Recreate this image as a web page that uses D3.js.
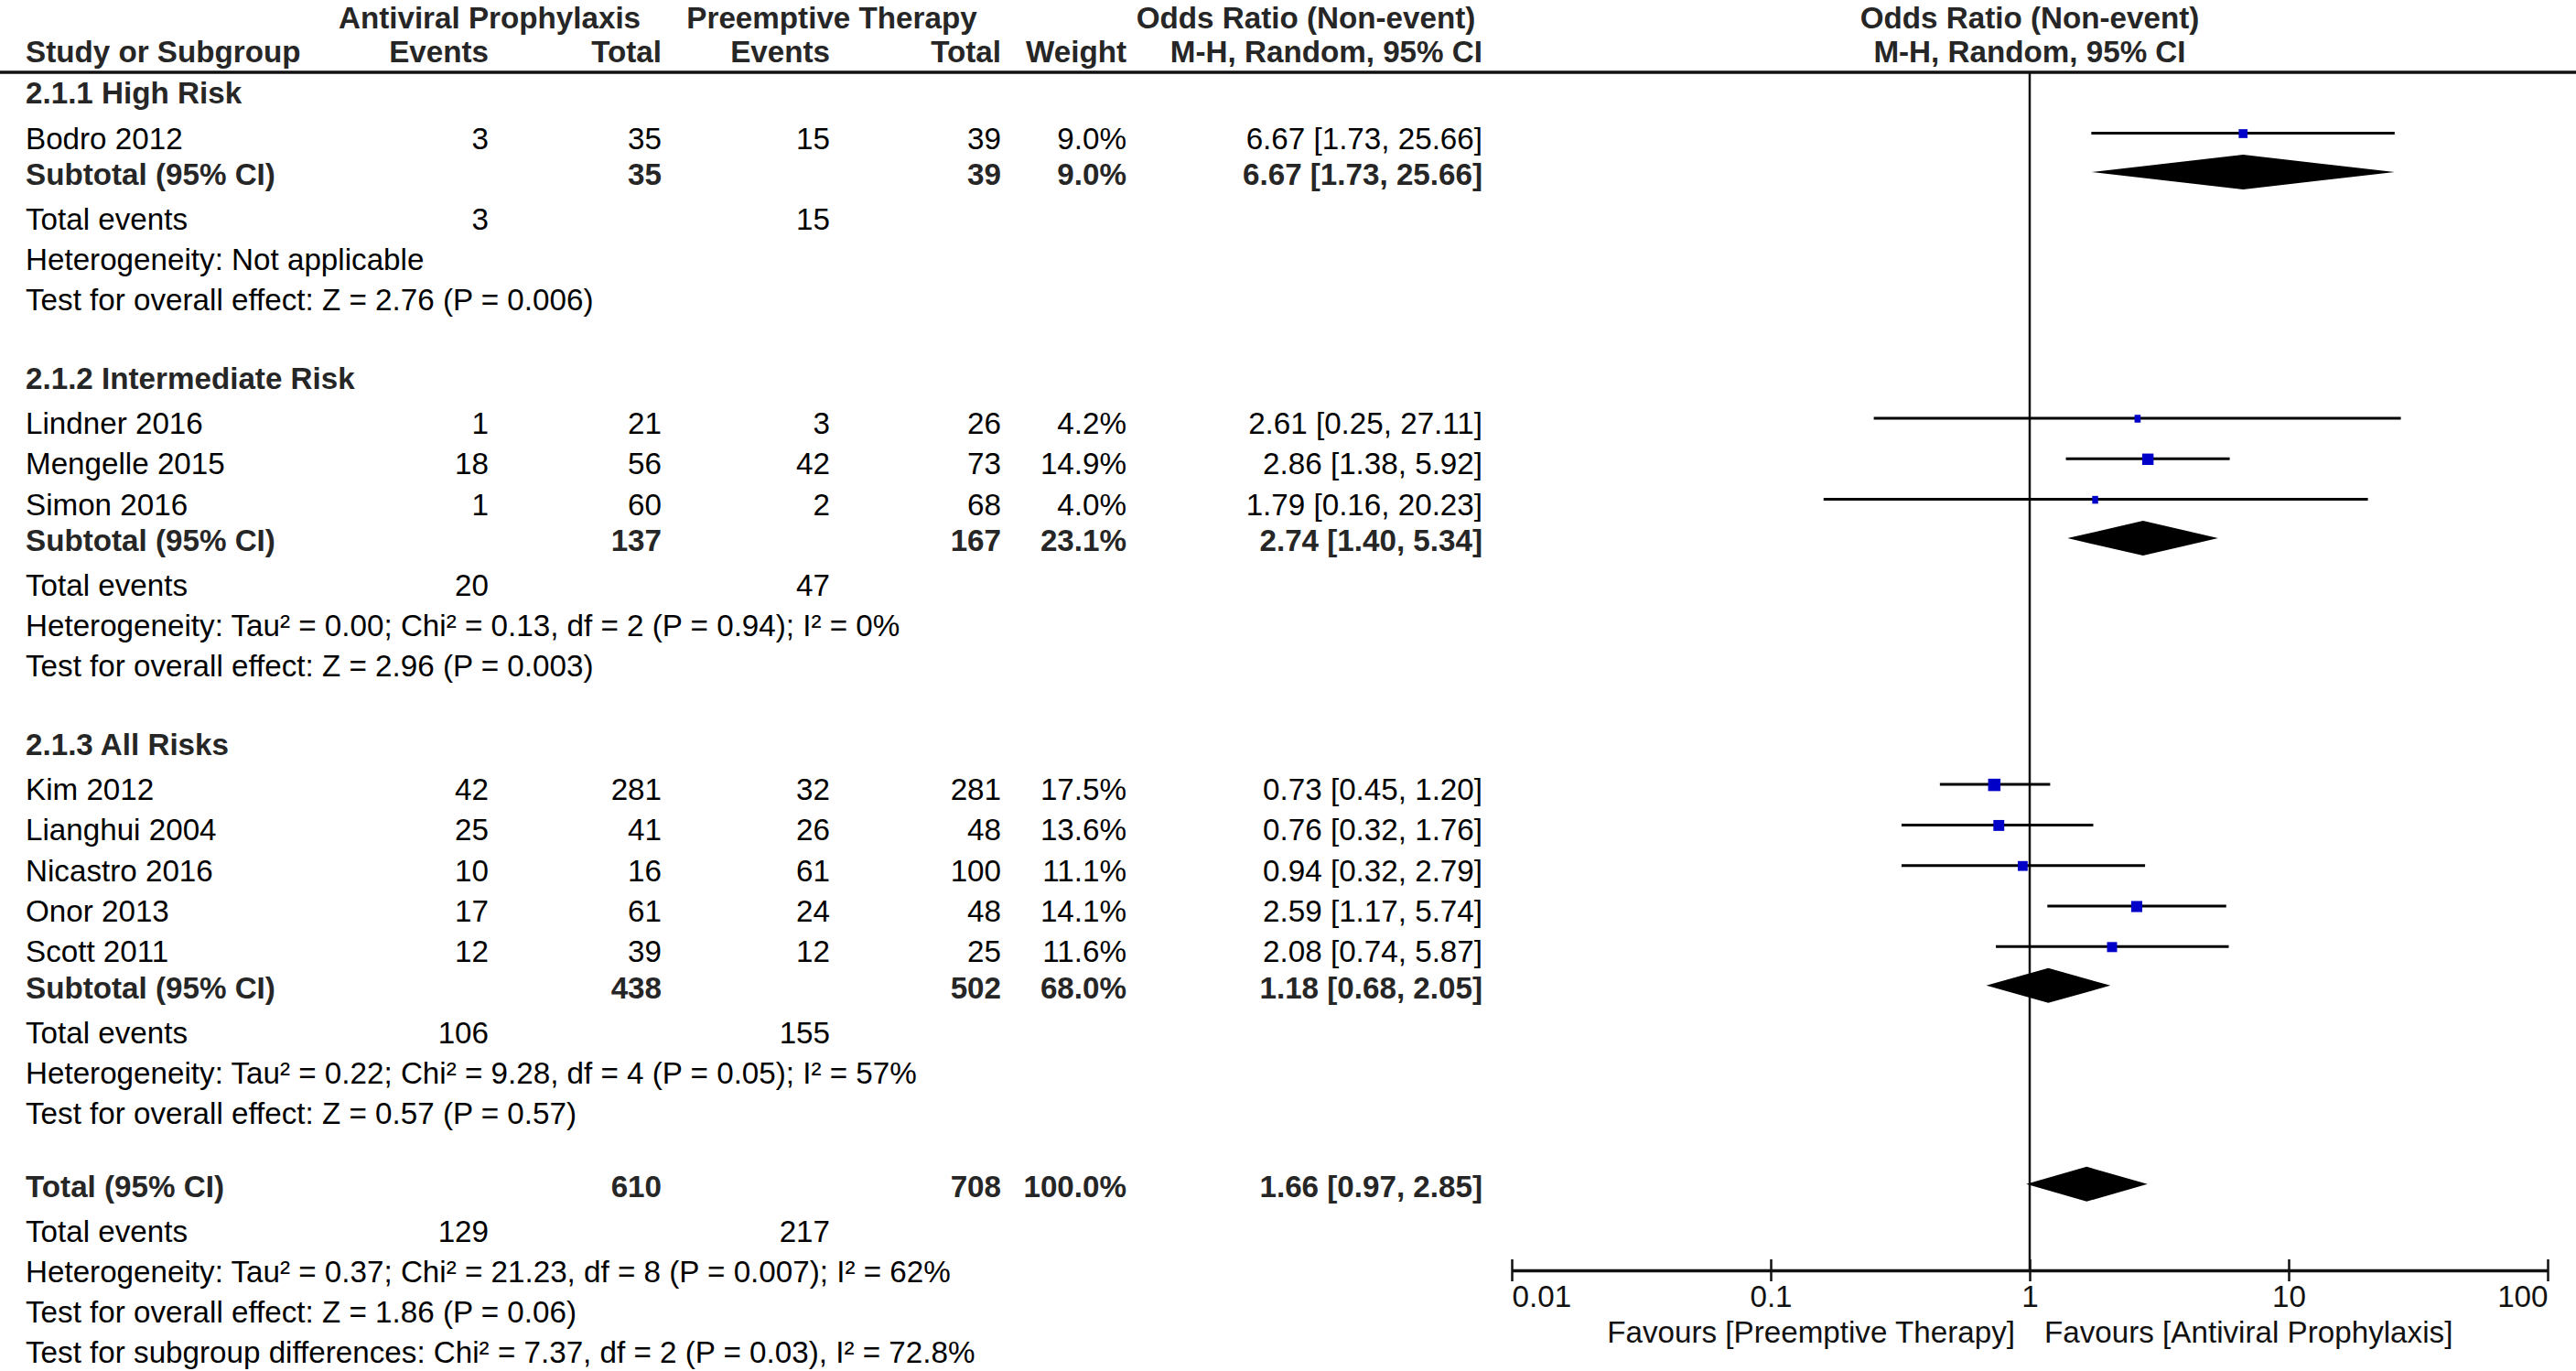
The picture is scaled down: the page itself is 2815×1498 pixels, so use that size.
<!DOCTYPE html>
<html>
<head>
<meta charset="utf-8">
<title>Forest plot</title>
<script src="https://d3js.org/d3.v7.min.js"></script>
<style>
  body { margin: 0; background: #fff; }
  text { font-family: "Liberation Sans", Arial, sans-serif; font-size: 33.2px; }
</style>
</head>
<body>
<svg id="chart" width="2815" height="1498"></svg>
<script>
// ---- data ----
var groupNames = ["2.1.1 High Risk", "2.1.2 Intermediate Risk", "2.1.3 All Risks"];

var studyNames = ["Bodro 2012", "Lindner 2016", "Mengelle 2015", "Simon 2016",
                  "Kim 2012", "Lianghui 2004", "Nicastro 2016", "Onor 2013", "Scott 2011"];
var studyGroup = [0, 1, 1, 1, 2, 2, 2, 2, 2];
var apEvents = [3, 1, 18, 1, 42, 25, 10, 17, 12];
var apTotal  = [35, 21, 56, 60, 281, 41, 16, 61, 39];
var ptEvents = [15, 3, 42, 2, 32, 26, 61, 24, 12];
var ptTotal  = [39, 26, 73, 68, 281, 48, 100, 48, 25];
var weights  = [9.0, 4.2, 14.9, 4.0, 17.5, 13.6, 11.1, 14.1, 11.6];
var orValue  = [6.67, 2.61, 2.86, 1.79, 0.73, 0.76, 0.94, 2.59, 2.08];
var orLower  = [1.73, 0.25, 1.38, 0.16, 0.45, 0.32, 0.32, 1.17, 0.74];
var orUpper  = [25.66, 27.11, 5.92, 20.23, 1.20, 1.76, 2.79, 5.74, 5.87];

var subApTotal  = [35, 137, 438];
var subPtTotal  = [39, 167, 502];
var subWeight   = [9.0, 23.1, 68.0];
var subOr       = [6.67, 2.74, 1.18];
var subLower    = [1.73, 1.40, 0.68];
var subUpper    = [25.66, 5.34, 2.05];
var subApEvents = [3, 20, 106];
var subPtEvents = [15, 47, 155];
var subHet = ["Heterogeneity: Not applicable",
              "Heterogeneity: Tau\u00b2 = 0.00; Chi\u00b2 = 0.13, df = 2 (P = 0.94); I\u00b2 = 0%",
              "Heterogeneity: Tau\u00b2 = 0.22; Chi\u00b2 = 9.28, df = 4 (P = 0.05); I\u00b2 = 57%"];
var subTest = ["Test for overall effect: Z = 2.76 (P = 0.006)",
               "Test for overall effect: Z = 2.96 (P = 0.003)",
               "Test for overall effect: Z = 0.57 (P = 0.57)"];

var totalApTotal = 610, totalPtTotal = 708, totalWeight = 100.0;
var totalOr = 1.66, totalLower = 0.97, totalUpper = 2.85;
var totalApEvents = 129, totalPtEvents = 217;
var totalNotes = ["Heterogeneity: Tau\u00b2 = 0.37; Chi\u00b2 = 21.23, df = 8 (P = 0.007); I\u00b2 = 62%",
                  "Test for overall effect: Z = 1.86 (P = 0.06)",
                  "Test for subgroup differences: Chi\u00b2 = 7.37, df = 2 (P = 0.03), I\u00b2 = 72.8%"];

var axisTicks  = [0.01, 0.1, 1, 10, 100];
var axisLabels = ["0.01", "0.1", "1", "10", "100"];
var favoursLeft  = "Favours [Preemptive Therapy]";
var favoursRight = "Favours [Antiviral Prophylaxis]";

// ---- layout ----
var svg = d3.select("#chart");
var regular = "#000", boldCol = "#262626";
var col = { label: 28, apE: 534, apT: 723, ptE: 907, ptT: 1094, w: 1231, ci: 1620 };
var headLineY = 79, axisY = 1388;

var x = d3.scaleLog().domain([0.01, 100]).range([1652, 2784]);
var box = d3.scaleSqrt().domain([0, d3.max(weights)]).range([0, 13.5]);

function fmtCI(v, l, u) { return v.toFixed(2) + " [" + l.toFixed(2) + ", " + u.toFixed(2) + "]"; }
function fmtW(w) { return w.toFixed(1) + "%"; }

// build the list of table rows
var rows = [];
groupNames.forEach(function(g, gi) {
    rows.push({ type: "group", label: g });
    studyNames.forEach(function(s, i) {
        if (studyGroup[i] !== gi) return;
        rows.push({ type: "study", label: s, apE: apEvents[i], apT: apTotal[i], ptE: ptEvents[i], ptT: ptTotal[i],
                    w: weights[i], or: orValue[i], lo: orLower[i], hi: orUpper[i] });
    });
    rows.push({ type: "sub", label: "Subtotal (95% CI)", apT: subApTotal[gi], ptT: subPtTotal[gi],
                w: subWeight[gi], or: subOr[gi], lo: subLower[gi], hi: subUpper[gi] });
    rows.push({ type: "events", label: "Total events", apE: subApEvents[gi], ptE: subPtEvents[gi] });
    rows.push({ type: "note", label: subHet[gi] });
    rows.push({ type: "note", label: subTest[gi] });
});
rows.push({ type: "sub", total: true, label: "Total (95% CI)", apT: totalApTotal, ptT: totalPtTotal,
            w: totalWeight, or: totalOr, lo: totalLower, hi: totalUpper });
rows.push({ type: "events", label: "Total events", apE: totalApEvents, ptE: totalPtEvents });
totalNotes.forEach(function(t) { rows.push({ type: "note", label: t }); });

// baseline of each row from the gap before it
var y = 113, prev = null;
rows.forEach(function(r) {
    if (prev) {
        if (r.type === "group") y += 85.5;
        else if (r.type === "study") y += (prev.type === "group" ? 49.5 : 44.3);
        else if (r.type === "sub") y += (r.total ? 80 : 39.5);
        else if (r.type === "events") y += 49;
        else y += 44;
    }
    r.y = y;
    prev = r;
});

function txt(xp, yp, s, anchor, bold) {
    svg.append("text")
        .attr("x", xp).attr("y", yp)
        .attr("text-anchor", anchor)
        .attr("font-weight", bold ? "bold" : "normal")
        .attr("fill", bold ? boldCol : regular)
        .text(s);
}

// ---- header ----
txt(535, 31, "Antiviral Prophylaxis", "middle", true);
txt(909, 31, "Preemptive Therapy", "middle", true);
txt(1427, 31, "Odds Ratio (Non-event)", "middle", true);
txt(x(1), 31, "Odds Ratio (Non-event)", "middle", true);
txt(col.label, 68, "Study or Subgroup", "start", true);
txt(col.apE, 68, "Events", "end", true);
txt(col.apT, 68, "Total", "end", true);
txt(col.ptE, 68, "Events", "end", true);
txt(col.ptT, 68, "Total", "end", true);
txt(col.w, 68, "Weight", "end", true);
txt(col.ci, 68, "M-H, Random, 95% CI", "end", true);
txt(x(1), 68, "M-H, Random, 95% CI", "middle", true);

svg.append("line")
    .attr("x1", 0).attr("x2", 2815)
    .attr("y1", headLineY).attr("y2", headLineY)
    .attr("stroke", "#111").attr("stroke-width", 3.5);

// ---- table text ----
rows.forEach(function(r) {
    var b = (r.type === "group" || r.type === "sub");
    txt(col.label, r.y, r.label, "start", b);
    if (r.apE !== undefined) txt(col.apE, r.y, r.apE, "end", false);
    if (r.apT !== undefined) txt(col.apT, r.y, r.apT, "end", b);
    if (r.ptE !== undefined) txt(col.ptE, r.y, r.ptE, "end", false);
    if (r.ptT !== undefined) txt(col.ptT, r.y, r.ptT, "end", b);
    if (r.w !== undefined) txt(col.w, r.y, fmtW(r.w), "end", b);
    if (r.or !== undefined) txt(col.ci, r.y, fmtCI(r.or, r.lo, r.hi), "end", b);
});

// ---- forest plot ----
svg.append("line")
    .attr("x1", x(1)).attr("x2", x(1))
    .attr("y1", headLineY).attr("y2", axisY)
    .attr("stroke", "#111").attr("stroke-width", 2.5);

var studies = rows.filter(function(r) { return r.type === "study"; });
svg.selectAll("line.ci").data(studies).enter().append("line")
    .attr("class", "ci")
    .attr("x1", function(d) { return x(d.lo); })
    .attr("x2", function(d) { return x(d.hi); })
    .attr("y1", function(d) { return d.y - 17; })
    .attr("y2", function(d) { return d.y - 17; })
    .attr("stroke", "#000").attr("stroke-width", 3);

function bw(d) { return Math.max(box(d.w), 6); }
function bh(d) { return Math.max(box(d.w), 8.5); }
svg.selectAll("rect.box").data(studies).enter().append("rect")
    .attr("class", "box")
    .attr("x", function(d) { return x(d.or) - bw(d) / 2; })
    .attr("y", function(d) { return d.y - 16.5 - bh(d) / 2; })
    .attr("width", bw)
    .attr("height", bh)
    .attr("fill", "#0000c8");

var subs = rows.filter(function(r) { return r.type === "sub"; });
svg.selectAll("path.diamond").data(subs).enter().append("path")
    .attr("class", "diamond")
    .attr("d", function(d) {
        var cy = d.y - 14, h = 19;
        return "M" + x(d.lo) + "," + cy + "L" + x(d.or) + "," + (cy - h) +
               "L" + x(d.hi) + "," + cy + "L" + x(d.or) + "," + (cy + h) + "Z";
    })
    .attr("fill", "#000");

// ---- axis ----
var axis = d3.axisBottom(x)
    .tickValues(axisTicks)
    .tickFormat(function(d, i) { return axisLabels[i]; })
    .tickSizeInner(12)
    .tickSizeOuter(0);

var gAxis = svg.append("g")
    .attr("transform", "translate(0," + axisY + ")")
    .call(axis);
gAxis.select(".domain").attr("stroke", "#111").attr("stroke-width", 3.5);
gAxis.selectAll(".tick line").attr("y1", -12).attr("stroke", "#111").attr("stroke-width", 2.5);
gAxis.selectAll(".tick text")
    .attr("y", 40).attr("dy", null)
    .attr("fill", "#111")
    .attr("text-anchor", function(d, i) {
        return i === 0 ? "start" : (i === axisTicks.length - 1 ? "end" : "middle");
    });

svg.append("text").attr("x", x(1) - 16).attr("y", axisY + 79)
    .attr("text-anchor", "end").attr("fill", "#111").text(favoursLeft);
svg.append("text").attr("x", x(1) + 16).attr("y", axisY + 79)
    .attr("text-anchor", "start").attr("fill", "#111").text(favoursRight);
</script>
</body>
</html>
